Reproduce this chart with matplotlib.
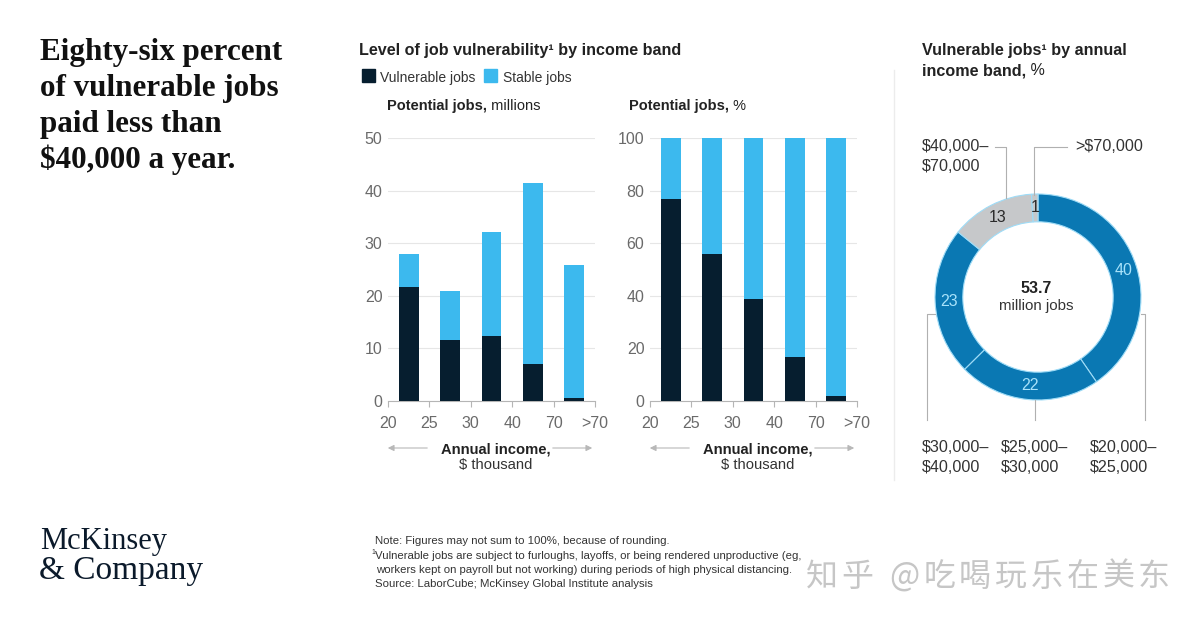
import matplotlib
matplotlib.use("Agg")
import matplotlib.pyplot as plt
from matplotlib.lines import Line2D
from matplotlib.patches import Rectangle, FancyArrowPatch

# ---------------- data ----------------
income_labels = ["20", "25", "30", "40", "70", ">70"]
vulnerable_millions = [21.6, 11.6, 12.4, 7.0, 0.5]
stable_millions = [6.3, 9.3, 19.8, 34.4, 25.3]
vulnerable_pct = [76.8, 55.8, 38.8, 16.8, 1.8]
stable_pct = [23.2, 44.2, 61.2, 83.2, 98.2]

donut_values = [40, 22, 23, 13, 1]
donut_bands = ["$20,000–\n$25,000", "$25,000–\n$30,000", "$30,000–\n$40,000",
               "$40,000–\n$70,000", ">$70,000"]
donut_total_label = "53.7"

# ---------------- style ----------------
DARK = "#061e2f"
LIGHT = "#3cb9ee"
DONUT_BLUE = "#0a78b3"
DONUT_GRAY = "#c6c8ca"
GRID = "#e6e6e6"
TICK = "#6a6a6a"
TXT = "#222222"
SANS = ["Liberation Sans", "DejaVu Sans"]
SERIF = ["Liberation Serif", "DejaVu Serif"]

plt.rcParams["font.family"] = SANS

W, H = 1200, 627
fig = plt.figure(figsize=(W / 100, H / 100), dpi=100)
fig.patch.set_facecolor("white")


def fx(x):
    return x / W


def fy(y):
    return 1 - y / H


def ftext(x, y, s, **kw):
    kw.setdefault("va", "baseline")
    kw.setdefault("color", TXT)
    return fig.text(fx(x), fy(y), s, **kw)


renderer = fig.canvas.get_renderer()


def rich(x, y, parts, size, color=TXT, family=SANS):
    cur = x
    for s, weight in parts:
        t = ftext(cur, y, s, fontsize=size, fontweight=weight, color=color, family=family)
        cur += t.get_window_extent(renderer).width


def tracked(x, y, s, size, target_width, space_em=0.25, **kw):
    """Draw text char by char, spreading it to a target width."""
    arts = []
    widths = []
    for ch in s:
        t = ftext(0, y, ch, fontsize=size, **kw)
        w = t.get_window_extent(renderer).width if ch.strip() else size * space_em * 100 / 72
        arts.append(t)
        widths.append(w)
    extra = (target_width - sum(widths)) / max(len(s) - 1, 1)
    cur = x
    for t, w in zip(arts, widths):
        t.set_x(fx(cur))
        cur += w + extra


def fline(xs, ys, color="#b0b0b0", lw=0.8):
    fig.add_artist(Line2D([fx(v) for v in xs], [fy(v) for v in ys],
                          color=color, lw=lw, transform=fig.transFigure))


# ---------------- headline ----------------
head_lines = ["Eighty-six percent", "of vulnerable jobs", "paid less than", "$40,000 a year."]
for i, s in enumerate(head_lines):
    ftext(40, 60 + 36 * i, s, fontsize=22.4, fontweight="bold", family=SERIF, color="#111111")

# logo
ftext(40, 549, "McKinsey", fontsize=22, family=SERIF, color="#0b1a2b")
ftext(39, 579, "& Company", fontsize=24, family=SERIF, color="#0b1a2b")

# ---------------- chart titles / legend ----------------
rich(359, 55, [("Level of job vulnerability¹ by income band", "bold")], 11.6)
fig.add_artist(Rectangle((fx(362), fy(82)), fx(13), 13 / H, color=DARK, transform=fig.transFigure))
ftext(380, 82, "Vulnerable jobs", fontsize=10, color="#333333")
fig.add_artist(Rectangle((fx(484), fy(82)), fx(13), 13 / H, color=LIGHT, transform=fig.transFigure))
ftext(503, 82, "Stable jobs", fontsize=10, color="#333333")

rich(387, 110, [("Potential jobs,", "bold"), (" millions", "normal")], 10.5)
rich(629, 110, [("Potential jobs,", "bold"), (" %", "normal")], 10.5)


# ---------------- bar charts ----------------
def bar_axes(left, ymax, step, vul, sta):
    ax = fig.add_axes([fx(left), fy(401), 207 / W, 263 / H])
    pos = [i + 0.5 for i in range(len(vul))]
    ax.bar(pos, vul, width=0.48, color=DARK, zorder=3)
    ax.bar(pos, sta, bottom=vul, width=0.48, color=LIGHT, zorder=3)
    ax.set_xlim(0, len(vul))
    ax.set_ylim(0, ymax)
    ax.set_yticks(range(0, ymax + 1, step))
    ax.set_xticks(range(len(income_labels)))
    ax.set_xticklabels(income_labels)
    ax.grid(axis="y", color=GRID, lw=0.8, zorder=0)
    for s in ["top", "right", "left"]:
        ax.spines[s].set_visible(False)
    ax.spines["bottom"].set_color("#b5b5b5")
    ax.spines["bottom"].set_linewidth(0.8)
    ax.tick_params(axis="y", length=0, pad=4, labelsize=11.5, labelcolor=TICK)
    ax.tick_params(axis="x", length=4, width=0.8, color="#b5b5b5", pad=7,
                   labelsize=11.5, labelcolor=TICK)
    ax.set_facecolor("none")
    # axis caption
    cx = left + 207 / 2 + 4
    ftext(cx, 453, "Annual income,", fontsize=10.6, fontweight="bold", ha="center")
    ftext(cx, 469, "$ thousand", fontsize=10.6, ha="center", color="#333333")
    for a, b in [(left + 42, left - 3), (left + 162, left + 207)]:
        fig.add_artist(FancyArrowPatch((fx(a), fy(448)), (fx(b), fy(448)),
                                       transform=fig.transFigure, arrowstyle="-|>",
                                       mutation_scale=9, color="#b8b8b8", lw=0.8))
    return ax


bar_axes(388, 50, 10, vulnerable_millions, stable_millions)
bar_axes(650, 100, 20, vulnerable_pct, stable_pct)

# divider
fline([893.5, 893.5], [70, 480], color="#ececec", lw=1)

# ---------------- donut ----------------
rich(922, 55, [("Vulnerable jobs¹ by annual", "bold")], 11.6)
rich(922, 75, [("income band,", "bold"), (" %", "normal")], 11.6)

cx, cy, R = 1038, 297, 103
dax = fig.add_axes([fx(cx - R), fy(cy + R), 2 * R / W, 2 * R / H])
colors = [DONUT_BLUE, DONUT_BLUE, DONUT_BLUE, DONUT_GRAY, DONUT_GRAY]
wedges, texts = dax.pie(donut_values, colors=colors, startangle=90, counterclock=False,
                        radius=1, labels=[str(v) for v in donut_values],
                        labeldistance=0.865,
                        wedgeprops=dict(width=0.27, edgecolor="#9fdcf7", linewidth=0.8))
for t, c in zip(texts, colors):
    t.set_ha("center")
    t.set_va("center")
    t.set_fontsize(11.5)
    t.set_color("#a8e2fa" if c == DONUT_BLUE else "#2a2a2a")
dax.set_aspect("equal")
dax.set_xlim(-1, 1)
dax.set_ylim(-1, 1)
dax.axis("off")

ftext(cx - 2, 293, donut_total_label, fontsize=11.5, fontweight="bold", ha="center")
ftext(cx - 2, 310, "million jobs", fontsize=10.8, ha="center", color="#333333")

# leader lines
fline([995, 1006, 1006], [147, 147, 198])
fline([1067, 1034, 1034], [147, 147, 195])
fline([935, 927, 927], [314, 314, 420])
fline([1035, 1035], [400, 420])
fline([1141, 1145, 1145], [314, 314, 420])

ftext(922, 151, donut_bands[3].split("\n")[0], fontsize=11.6, color="#333333")
ftext(922, 171, donut_bands[3].split("\n")[1], fontsize=11.6, color="#333333")
ftext(1075, 151, donut_bands[4], fontsize=11.6, color="#333333")
for x0, lab in [(922, donut_bands[2]), (1001, donut_bands[1]), (1090, donut_bands[0])]:
    a, b = lab.split("\n")
    ftext(x0, 452, a, fontsize=11.6, color="#333333")
    ftext(x0, 472, b, fontsize=11.6, color="#333333")

# ---------------- notes ----------------
notes = [
    (375, 544, "Note: Figures may not sum to 100%, because of rounding."),
    (375, 559, "Vulnerable jobs are subject to furloughs, layoffs, or being rendered unproductive (eg,"),
    (376, 573, "workers kept on payroll but not working) during periods of high physical distancing."),
    (375, 587, "Source: LaborCube; McKinsey Global Institute analysis"),
]
for x0, y0, s in notes:
    ftext(x0, y0, s, fontsize=8.2, color="#333333")
ftext(371, 554, "1", fontsize=5, color="#333333")

# watermark
tracked(806, 586, "知乎 @吃喝玩乐在美东", 23, 364, color="#c6c6c6",
        family=["Noto Sans CJK SC", "DejaVu Sans"])

fig.savefig("out.png", dpi=100, facecolor="white")
